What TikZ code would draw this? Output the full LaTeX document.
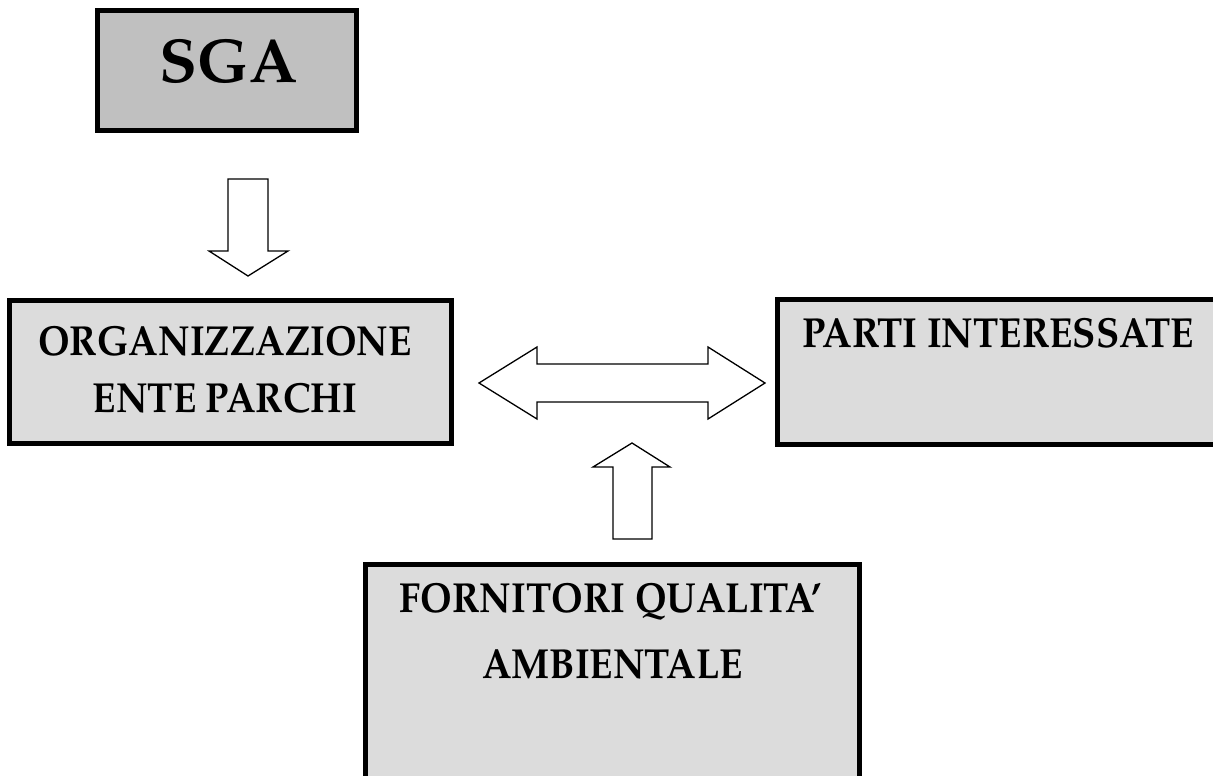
\documentclass[tikz,border=0pt]{standalone}
\usepackage[T1]{fontenc}
\usepackage{mathpazo}
\definecolor{boxgray}{RGB}{192,192,192}
\definecolor{lightbox}{RGB}{220,220,220}
\newcommand{\narrowtxt}[1]{\scalebox{0.905}[1]{#1}}
\tikzset{
  box/.style={draw=black, line width=5pt, rectangle, inner sep=0pt},
  lbl/.style={anchor=base, inner sep=0pt, font=\fontsize{42}{50}\selectfont\bfseries},
  blockarrow/.style={draw=black, fill=white, line width=1.3pt, line join=miter}
}
\begin{document}
\begin{tikzpicture}[x=1pt,y=-1pt]
\useasboundingbox (0,0) rectangle (1213,776);
\clip (0,0) rectangle (1213,776);
% boxes
\node[box, fill=boxgray, minimum width=259pt, minimum height=120pt] (sga) at (227,70.5) {};
\node[box, fill=lightbox, minimum width=442pt, minimum height=143pt] (org) at (230.5,372) {};
\node[box, fill=lightbox, minimum width=460pt, minimum height=145pt] (parti) at (1007.5,372) {};
\node[box, fill=lightbox, minimum width=494pt, minimum height=240pt] (forn) at (612.5,684.5) {};
% texts
\node[lbl, font=\fontsize{62}{70}\selectfont\bfseries] (tsga) at (228.5,83) {SGA};
\node[lbl] (torg1) at (225,355) {\narrowtxt{ORGANIZZAZIONE}};
\node[lbl] (torg2) at (225,412) {\narrowtxt{ENTE PARCHI}};
\node[lbl] (tparti) at (998,347) {\narrowtxt{PARTI INTERESSATE}};
\node[lbl] (tforn1) at (611,612) {\narrowtxt{FORNITORI QUALITA'}};
\node[lbl] (tforn2) at (612.5,678) {\narrowtxt{AMBIENTALE}};
% block arrows
\draw[blockarrow] (228,179) -- (268,179) -- (268,251) -- (288,251) -- (248,276) -- (209,251) -- (228,251) -- cycle;
\draw[blockarrow] (479,383) -- (537,347) -- (537,364) -- (708,364) -- (708,347) -- (765,383) -- (708,419) -- (708,402) -- (537,402) -- (537,419) -- cycle;
\draw[blockarrow] (632,443) -- (670,467) -- (652,467) -- (652,539) -- (613,539) -- (613,467) -- (593,467) -- cycle;
\end{tikzpicture}
\end{document}
